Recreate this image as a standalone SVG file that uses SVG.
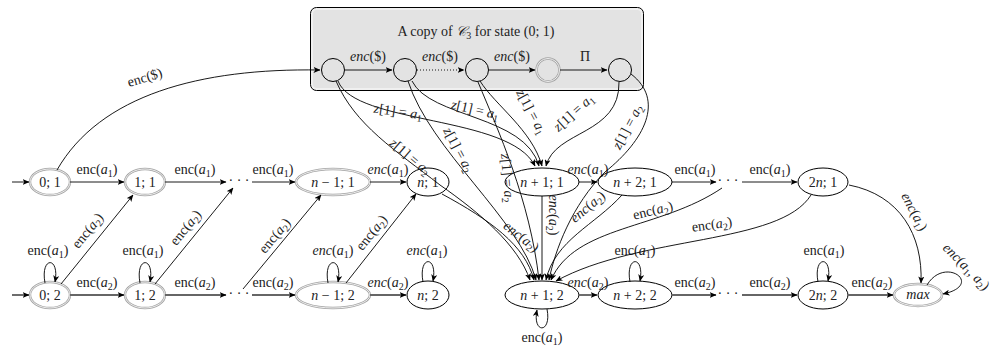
<svg xmlns="http://www.w3.org/2000/svg" width="992" height="351" viewBox="0 0 992 351">
<style>
.t{font-family:"Liberation Serif","DejaVu Serif",serif;font-size:14px;fill:#222;text-anchor:middle}
.i{font-style:italic}
.s{font-size:10px}
.e{fill:none;stroke:#000;stroke-width:0.9}
.th{fill:none;stroke:#666;stroke-width:1.9}
.g{fill:none;stroke:#a3a3a3;stroke-width:2.4}
.gi{fill:none;stroke:#f6f6f6;stroke-width:0.9}
.b{fill:none;stroke:#000;stroke-width:1}
.c{fill:#e3e3e3;stroke:#000;stroke-width:1}
</style>
<defs>
<marker id="ar" viewBox="0 0 7 6" refX="6.5" refY="3" markerWidth="7" markerHeight="6" markerUnits="userSpaceOnUse" orient="auto"><path d="M0,0 L7,3 L0,6 L1.8,3 z" fill="#000"/></marker>
</defs>

<g id="box">
<rect x="310.5" y="7.5" width="333" height="83" rx="6" fill="#f0f0f0" stroke="#000" stroke-width="1"/>
<rect x="313" y="10" width="328" height="78" rx="4" fill="#e3e3e3"/>
<text class="t" x="476" y="36">A copy of <tspan class="i">𝒞</tspan><tspan class="s" dy="3">3</tspan><tspan dy="-3"> for state (0; 1)</tspan></text>
</g>
<g id="c1"><circle class="c" cx="333" cy="70" r="11.5"/></g>
<g id="c2"><circle class="c" cx="405" cy="70" r="11.5"/></g>
<g id="c3"><circle class="c" cx="477" cy="70" r="11.5"/></g>
<g id="c4"><circle cx="548" cy="70" r="11.5" class="g"/><circle cx="548" cy="70" r="11.5" class="gi"/></g>
<g id="c5"><circle class="c" cx="620" cy="70" r="11.5"/></g>

<g id="n01"><ellipse class="g" cx="50" cy="182" rx="20" ry="13"/><ellipse class="gi" cx="50" cy="182" rx="20" ry="13"/><text class="t" x="50" y="187">0; 1</text></g>
<g id="n11"><ellipse class="g" cx="145" cy="182" rx="20" ry="13"/><ellipse class="gi" cx="145" cy="182" rx="20" ry="13"/><text class="t" x="145" y="187">1; 1</text></g>
<g id="d1a"><text class="t" x="239" y="185">· · ·</text></g>
<g id="nm11"><ellipse class="g" cx="333" cy="182" rx="37" ry="13"/><ellipse class="gi" cx="333" cy="182" rx="37" ry="13"/><text class="t" x="333" y="187"><tspan class="i">n</tspan> − 1; 1</text></g>
<g id="nn1"><ellipse class="b" cx="428" cy="182" rx="21" ry="14"/><text class="t" x="428" y="187"><tspan class="i">n</tspan>; 1</text></g>
<g id="np11"><ellipse class="b" cx="542" cy="182" rx="37" ry="14"/><text class="t" x="542" y="187"><tspan class="i">n</tspan> + 1; 1</text></g>
<g id="np21"><ellipse class="b" cx="635" cy="182" rx="37" ry="14"/><text class="t" x="635" y="187"><tspan class="i">n</tspan> + 2; 1</text></g>
<g id="d1b"><text class="t" x="728" y="185">· · ·</text></g>
<g id="n2n1"><ellipse class="b" cx="823" cy="182" rx="25" ry="14"/><text class="t" x="823" y="187">2<tspan class="i">n</tspan>; 1</text></g>

<g id="n02"><ellipse class="g" cx="50" cy="295" rx="20" ry="13"/><ellipse class="gi" cx="50" cy="295" rx="20" ry="13"/><text class="t" x="50" y="300">0; 2</text></g>
<g id="n12"><ellipse class="g" cx="145" cy="295" rx="20" ry="13"/><ellipse class="gi" cx="145" cy="295" rx="20" ry="13"/><text class="t" x="145" y="300">1; 2</text></g>
<g id="d2a"><text class="t" x="239" y="298">· · ·</text></g>
<g id="nm12"><ellipse class="g" cx="333" cy="295" rx="37" ry="13"/><ellipse class="gi" cx="333" cy="295" rx="37" ry="13"/><text class="t" x="333" y="300"><tspan class="i">n</tspan> − 1; 2</text></g>
<g id="nn2"><ellipse class="b" cx="428" cy="295" rx="21" ry="14"/><text class="t" x="428" y="300"><tspan class="i">n</tspan>; 2</text></g>
<g id="np12"><ellipse class="b" cx="542" cy="295" rx="37" ry="14"/><text class="t" x="542" y="300"><tspan class="i">n</tspan> + 1; 2</text></g>
<g id="np22"><ellipse class="b" cx="635" cy="295" rx="37" ry="14"/><text class="t" x="635" y="300"><tspan class="i">n</tspan> + 2; 2</text></g>
<g id="d2b"><text class="t" x="728" y="298">· · ·</text></g>
<g id="n2n2"><ellipse class="b" cx="823" cy="295" rx="25" ry="14"/><text class="t" x="823" y="300">2<tspan class="i">n</tspan>; 2</text></g>
<g id="nmax"><ellipse class="g" cx="918" cy="295" rx="24" ry="11"/><ellipse class="gi" cx="918" cy="295" rx="24" ry="11"/><text class="t i" x="918" y="299">max</text></g>

<g id="connectors">
<path class="e" d="M345,70 H392" marker-end="url(#ar)"/>
<path class="e" d="M417,70 H464" stroke-dasharray="1,2" marker-end="url(#ar)"/>
<path class="e" d="M489,70 H535" marker-end="url(#ar)"/>
<path class="e" d="M560,70 H607" marker-end="url(#ar)"/>
<text class="t" x="368" y="61"><tspan class="i">enc</tspan>($)</text>
<text class="t" x="440" y="61"><tspan class="i">enc</tspan>($)</text>
<text class="t" x="512" y="61"><tspan class="i">enc</tspan>($)</text>
<text class="t" x="585" y="61">Π</text>

<path class="e" d="M57,170 C100,95 200,68 320,70" marker-end="url(#ar)"/>
<text class="t" transform="translate(145,78) rotate(-17)" x="0" y="4">enc($)</text>

<path class="e" d="M12,182 H29" marker-end="url(#ar)"/>
<path class="e" d="M70,182 H124" marker-end="url(#ar)"/>
<path class="e" d="M165,182 H226" marker-end="url(#ar)"/>
<path class="e" d="M252,182 H295" marker-end="url(#ar)"/>
<path class="e" d="M370,182 H406" marker-end="url(#ar)"/>
<path class="e" d="M579,182 H597" marker-end="url(#ar)"/>
<path class="e" d="M672,182 H716" marker-end="url(#ar)"/>
<path class="e" d="M742,182 H797" marker-end="url(#ar)"/>
<text class="t" x="97" y="174">enc(<tspan class="i">a</tspan><tspan class="s" dy="3">1</tspan><tspan dy="-3">)</tspan></text>
<text class="t" x="195" y="174">enc(<tspan class="i">a</tspan><tspan class="s" dy="3">1</tspan><tspan dy="-3">)</tspan></text>
<text class="t" x="273" y="174">enc(<tspan class="i">a</tspan><tspan class="s" dy="3">1</tspan><tspan dy="-3">)</tspan></text>
<text class="t" x="388" y="174"><tspan class="i">enc</tspan>(<tspan class="i">a</tspan><tspan class="s" dy="3">1</tspan><tspan dy="-3">)</tspan></text>
<text class="t" x="588" y="174"><tspan class="i">enc</tspan>(<tspan class="i">a</tspan><tspan class="s" dy="3">1</tspan><tspan dy="-3">)</tspan></text>
<text class="t" x="695" y="174">enc(<tspan class="i">a</tspan><tspan class="s" dy="3">1</tspan><tspan dy="-3">)</tspan></text>
<text class="t" x="770" y="174">enc(<tspan class="i">a</tspan><tspan class="s" dy="3">1</tspan><tspan dy="-3">)</tspan></text>

<path class="th" d="M12,295 H29" marker-end="url(#ar)"/>
<path class="th" d="M70,295 H124" marker-end="url(#ar)"/>
<path class="th" d="M165,295 H226" marker-end="url(#ar)"/>
<path class="th" d="M252,295 H295" marker-end="url(#ar)"/>
<path class="th" d="M370,295 H406" marker-end="url(#ar)"/>
<path class="th" d="M579,295 H597" marker-end="url(#ar)"/>
<path class="th" d="M672,295 H716" marker-end="url(#ar)"/>
<path class="th" d="M742,295 H797" marker-end="url(#ar)"/>
<path class="th" d="M848,295 H893" marker-end="url(#ar)"/>
<text class="t" x="97" y="287">enc(<tspan class="i">a</tspan><tspan class="s" dy="3">2</tspan><tspan dy="-3">)</tspan></text>
<text class="t" x="195" y="287">enc(<tspan class="i">a</tspan><tspan class="s" dy="3">2</tspan><tspan dy="-3">)</tspan></text>
<text class="t" x="273" y="287">enc(<tspan class="i">a</tspan><tspan class="s" dy="3">2</tspan><tspan dy="-3">)</tspan></text>
<text class="t" x="388" y="287"><tspan class="i">enc</tspan>(<tspan class="i">a</tspan><tspan class="s" dy="3">2</tspan><tspan dy="-3">)</tspan></text>
<text class="t" x="588" y="287"><tspan class="i">enc</tspan>(<tspan class="i">a</tspan><tspan class="s" dy="3">2</tspan><tspan dy="-3">)</tspan></text>
<text class="t" x="695" y="287">enc(<tspan class="i">a</tspan><tspan class="s" dy="3">2</tspan><tspan dy="-3">)</tspan></text>
<text class="t" x="770" y="287">enc(<tspan class="i">a</tspan><tspan class="s" dy="3">2</tspan><tspan dy="-3">)</tspan></text>
<text class="t" x="872" y="287">enc(<tspan class="i">a</tspan><tspan class="s" dy="3">2</tspan><tspan dy="-3">)</tspan></text>

<path class="e" d="M61,284 L133,195" marker-end="url(#ar)"/>
<path class="e" d="M155,284 L233,188" marker-end="url(#ar)"/>
<path class="e" d="M243,289 L321,195" marker-end="url(#ar)"/>
<path class="e" d="M346,283 L416,194" marker-end="url(#ar)"/>
<text class="t" transform="translate(88,231) rotate(-51)" x="0" y="4">enc(<tspan class="i">a</tspan><tspan class="s" dy="3">2</tspan><tspan dy="-3">)</tspan></text>
<text class="t" transform="translate(186,228) rotate(-51)" x="0" y="4">enc(<tspan class="i">a</tspan><tspan class="s" dy="3">2</tspan><tspan dy="-3">)</tspan></text>
<text class="t" transform="translate(275,236) rotate(-50)" x="0" y="4">enc(<tspan class="i">a</tspan><tspan class="s" dy="3">2</tspan><tspan dy="-3">)</tspan></text>
<text class="t" transform="translate(372,233) rotate(-51)" x="0" y="4">enc(<tspan class="i">a</tspan><tspan class="s" dy="3">2</tspan><tspan dy="-3">)</tspan></text>

<path class="e" d="M45,283 C40,256 60,256 55,282" marker-end="url(#ar)"/>
<path class="e" d="M140,283 C135,256 155,256 150,282" marker-end="url(#ar)"/>
<path class="e" d="M328,283 C323,256 343,256 338,282" marker-end="url(#ar)"/>
<path class="e" d="M423,282 C418,255 438,255 433,281" marker-end="url(#ar)"/>
<path class="e" d="M630,282 C625,255 645,255 640,281" marker-end="url(#ar)"/>
<path class="e" d="M818,282 C813,255 833,255 828,281" marker-end="url(#ar)"/>
<text class="t" x="48" y="255">enc(<tspan class="i">a</tspan><tspan class="s" dy="3">1</tspan><tspan dy="-3">)</tspan></text>
<text class="t" x="143" y="255">enc(<tspan class="i">a</tspan><tspan class="s" dy="3">1</tspan><tspan dy="-3">)</tspan></text>
<text class="t" x="333" y="255"><tspan class="i">enc</tspan>(<tspan class="i">a</tspan><tspan class="s" dy="3">1</tspan><tspan dy="-3">)</tspan></text>
<text class="t" x="427" y="255"><tspan class="i">enc</tspan>(<tspan class="i">a</tspan><tspan class="s" dy="3">1</tspan><tspan dy="-3">)</tspan></text>
<text class="t" x="635" y="255">enc(<tspan class="i">a</tspan><tspan class="s" dy="3">1</tspan><tspan dy="-3">)</tspan></text>
<text class="t" x="824" y="255">enc(<tspan class="i">a</tspan><tspan class="s" dy="3">1</tspan><tspan dy="-3">)</tspan></text>

<path class="e" d="M547,309 C552,334 532,334 537,310" marker-end="url(#ar)"/>
<text class="t" x="542" y="342">enc(<tspan class="i">a</tspan><tspan class="s" dy="3">1</tspan><tspan dy="-3">)</tspan></text>

<path class="e" d="M927,285 C945,255 985,285 943,294" marker-end="url(#ar)"/>
<text class="t" transform="translate(966,267) rotate(45)" x="0" y="4"><tspan class="i">enc</tspan>(<tspan class="i">a</tspan><tspan class="s" dy="3">1</tspan><tspan dy="-3">, </tspan><tspan class="i">a</tspan><tspan class="s" dy="3">2</tspan><tspan dy="-3">)</tspan></text>
<path class="e" d="M849,185 C900,195 923,235 921,283" marker-end="url(#ar)"/>
<text class="t" transform="translate(914,212) rotate(62)" x="0" y="4"><tspan class="i">enc</tspan>(<tspan class="i">a</tspan><tspan class="s" dy="3">1</tspan><tspan dy="-3">)</tspan></text>

<path class="e" d="M338,81 C355,125 510,115 535,166" marker-end="url(#ar)"/>
<path class="e" d="M412,81 C430,118 525,115 539,166" marker-end="url(#ar)"/>
<path class="e" d="M480,81 C495,105 532,130 542,166" marker-end="url(#ar)"/>
<path class="e" d="M619,82 C620,135 555,130 546,166" marker-end="url(#ar)"/>
<text class="t" transform="translate(398,112) rotate(8)" x="0" y="4"><tspan class="i">z</tspan>[1] = <tspan class="i">a</tspan><tspan class="s" dy="3">1</tspan></text>
<text class="t" transform="translate(475,110) rotate(13)" x="0" y="4"><tspan class="i">z</tspan>[1] = <tspan class="i">a</tspan><tspan class="s" dy="3">1</tspan></text>
<text class="t" transform="translate(531,112) rotate(62)" x="0" y="4"><tspan class="i">z</tspan>[1] = <tspan class="i">a</tspan><tspan class="s" dy="3">1</tspan></text>
<text class="t" transform="translate(574,113) rotate(-42)" x="0" y="4"><tspan class="i">z</tspan>[1] = <tspan class="i">a</tspan><tspan class="s" dy="3">1</tspan></text>

<path class="e" d="M336,81 C355,125 395,150 440,185 C480,213 518,245 530,280" marker-end="url(#ar)"/>
<path class="e" d="M408,81 C430,150 520,220 536,280" marker-end="url(#ar)"/>
<path class="e" d="M478,82 C498,130 530,200 539,280" marker-end="url(#ar)"/>
<path class="e" d="M631,74 C665,100 645,140 605,172 C572,205 555,250 549,280" marker-end="url(#ar)"/>
<text class="t" transform="translate(410,157) rotate(40)" x="0" y="4"><tspan class="i">z</tspan>[1] = <tspan class="i">a</tspan><tspan class="s" dy="3">2</tspan></text>
<text class="t" transform="translate(458,150) rotate(62)" x="0" y="4"><tspan class="i">z</tspan>[1] = <tspan class="i">a</tspan><tspan class="s" dy="3">2</tspan></text>
<text class="t" transform="translate(507,178) rotate(85)" x="0" y="4"><tspan class="i">z</tspan>[1] = <tspan class="i">a</tspan><tspan class="s" dy="3">2</tspan></text>
<text class="t" transform="translate(628,127) rotate(-62)" x="0" y="4"><tspan class="i">z</tspan>[1] = <tspan class="i">a</tspan><tspan class="s" dy="3">2</tspan></text>

<path class="e" d="M442,194 C490,220 525,245 534,280" marker-end="url(#ar)"/>
<text class="t" transform="translate(521,237) rotate(38)" x="0" y="4"><tspan class="i">enc</tspan>(<tspan class="i">a</tspan><tspan class="s" dy="3">2</tspan><tspan dy="-3">)</tspan></text>
<path class="e" d="M542,196 V280" marker-end="url(#ar)"/>
<text class="t" transform="translate(553,215) rotate(90)" x="0" y="4"><tspan class="i">enc</tspan>(<tspan class="i">a</tspan><tspan class="s" dy="3">2</tspan><tspan dy="-3">)</tspan></text>
<path class="e" d="M622,195 C595,225 555,240 546,280" marker-end="url(#ar)"/>
<text class="t" transform="translate(588,207) rotate(-40)" x="0" y="4"><tspan class="i">enc</tspan>(<tspan class="i">a</tspan><tspan class="s" dy="3">2</tspan><tspan dy="-3">)</tspan></text>
<path class="e" d="M722,188 C660,230 575,225 551,280" marker-end="url(#ar)"/>
<text class="t" transform="translate(653,211) rotate(-14)" x="0" y="4">enc(<tspan class="i">a</tspan><tspan class="s" dy="3">2</tspan><tspan dy="-3">)</tspan></text>
<path class="e" d="M811,195 C780,245 640,235 556,281" marker-end="url(#ar)"/>
<text class="t" transform="translate(712,225) rotate(-8)" x="0" y="4">enc(<tspan class="i">a</tspan><tspan class="s" dy="3">2</tspan><tspan dy="-3">)</tspan></text>
</g>
</svg>
